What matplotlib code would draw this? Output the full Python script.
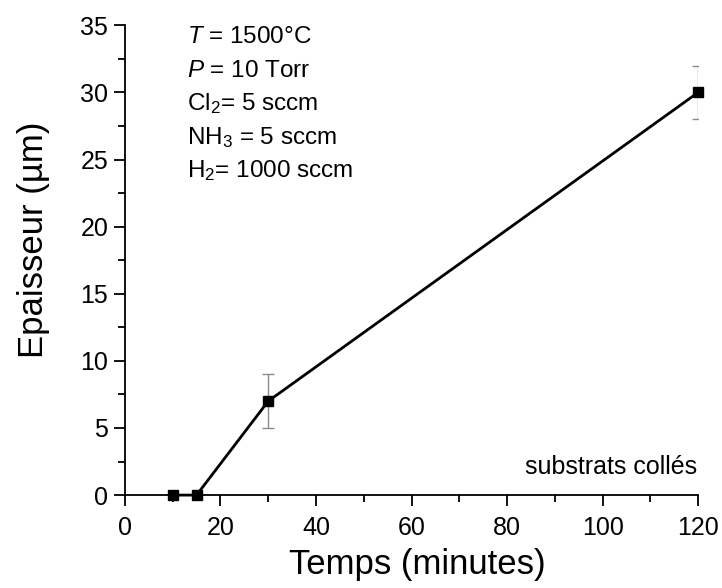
import numpy as np
import matplotlib
matplotlib.use('Agg')
import matplotlib.pyplot as plt
from matplotlib.ticker import MultipleLocator

plt.rcParams['font.family'] = ['Liberation Sans', 'DejaVu Sans']
plt.rcParams['mathtext.fontset'] = 'custom'
plt.rcParams['mathtext.rm'] = 'Liberation Sans'
plt.rcParams['mathtext.it'] = 'Liberation Sans:italic'

# data
temps = [10, 15, 30, 120]
epaisseur = [0, 0, 7, 30]
erreur = [0, 0, 2, 2]

conditions = [r'$\mathit{T}$ = 1500°C',
              r'$\mathit{P}$ = 10 Torr',
              r'Cl$_2$= 5 sccm',
              r'NH$_3$ = 5 sccm',
              r'H$_2$= 1000 sccm']

fig = plt.figure(figsize=(7.22, 5.88), dpi=100)
ax = fig.add_axes([0.173, 0.158, 0.794, 0.799])

ax.errorbar(temps, epaisseur, yerr=erreur, fmt='none', ecolor='#8c8c8c',
            elinewidth=1, capsize=4, capthick=1, zorder=2)
ax.plot(temps, epaisseur, color='black', linewidth=2, marker='s',
        markersize=7, clip_on=False, zorder=3)

ax.set_xlim(0, 120)
ax.set_ylim(0, 35)
ax.xaxis.set_major_locator(MultipleLocator(20))
ax.xaxis.set_minor_locator(MultipleLocator(10))
ax.yaxis.set_major_locator(MultipleLocator(5))
ax.yaxis.set_minor_locator(MultipleLocator(2.5))
ax.tick_params(which='major', direction='out', length=8, width=1.3, labelsize=18)
ax.tick_params(which='minor', direction='out', length=5, width=1.3)
ax.tick_params(axis='x', which='major', pad=7)
ax.tick_params(axis='y', which='major', pad=4)
for s in ['top', 'right']:
    ax.spines[s].set_visible(False)
for s in ['left', 'bottom']:
    ax.spines[s].set_linewidth(1.3)

ax.set_xlabel('Temps (minutes)', fontsize=25)
ax.set_ylabel('Epaisseur (µm)', fontsize=25)
ax.xaxis.set_label_coords(0.51, -0.113)
ax.yaxis.set_label_coords(-0.131, 0.543)

for i, txt in enumerate(conditions):
    ax.text(0.108, 0.962 - i * 0.0713, txt, transform=ax.transAxes,
            fontsize=17.5, va='baseline', ha='left')

ax.text(0.998, 0.06, 'substrats collés', transform=ax.transAxes,
        fontsize=18, ha='right', va='center')

fig.savefig('out.png', dpi=100)
